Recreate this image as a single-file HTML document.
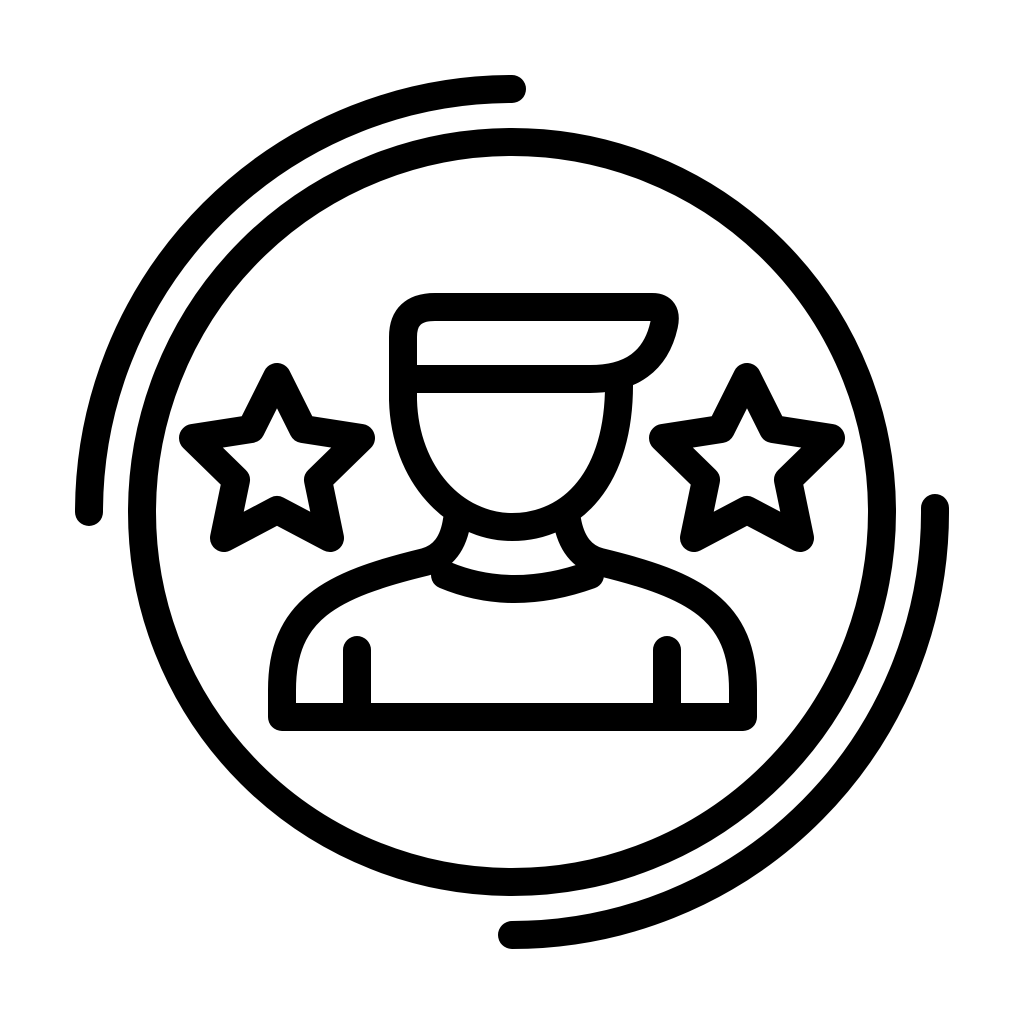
<!DOCTYPE html>
<html><head><style>html,body{margin:0;padding:0;background:#fff;width:1024px;height:1024px;overflow:hidden}</style></head>
<body>
<svg width="1024" height="1024" viewBox="0 0 1024 1024" xmlns="http://www.w3.org/2000/svg">
<g fill="none" stroke="#000" stroke-width="28" stroke-linecap="round" stroke-linejoin="round">
<circle cx="512" cy="512" r="370"/>
<path d="M89 512 A423 423 0 0 1 512 89"/>
<path d="M935 508 A423 423 0 0 1 512 935"/>
<!-- cap -->
<path d="M403 379 V337 Q403 307 435 307 H652 Q668 307 664 325 Q652 379 590 379 H403"/>
<!-- face -->
<path d="M403 379 V400 C405 475 455 527 512 527 C572 527 620 478 619 382"/>
<!-- neck & body -->
<path d="M457 520 Q452 555 425 562 C330 585 282 610 282 690 V717 H743 V690 C743 610 695 585 600 562 Q573 555 567 520"/>
<path d="M445 575 Q512 603 590 575"/>
<path d="M357 650 V717 M667 650 V717"/>
<!-- stars -->
<path d="M277 377 L303 429 L361 438 L318 480 L330 538 L277 510 L224 538 L236 480 L193 438 L251 429 Z"/>
<path d="M747 377 L773 429 L831 438 L788 480 L800 538 L747 510 L694 538 L706 480 L663 438 L721 429 Z"/>
</g>
</svg>
</body></html>
